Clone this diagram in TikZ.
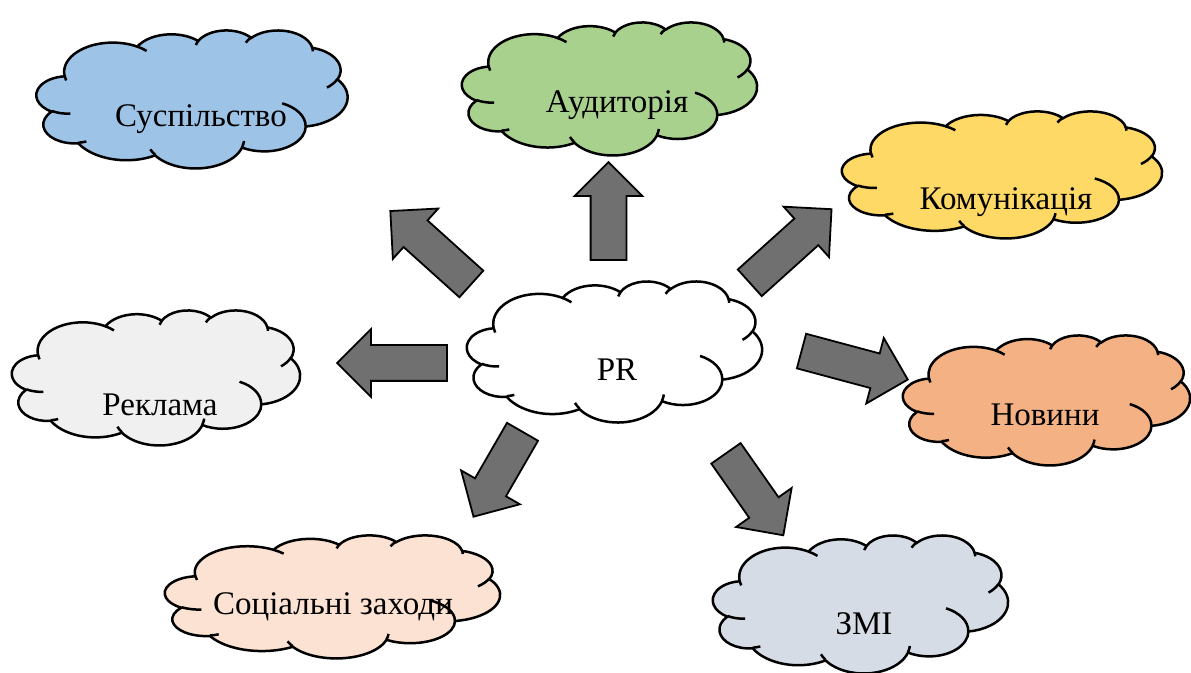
\documentclass[tikz,border=0pt]{standalone}
\usepackage{fontspec}
\setmainfont{Liberation Serif}
\usetikzlibrary{shapes.arrows}
\definecolor{cBlue}{RGB}{157,195,230}
\definecolor{cGreen}{RGB}{169,209,142}
\definecolor{cYellow}{RGB}{255,217,102}
\definecolor{cGray}{RGB}{240,240,240}
\definecolor{cOrange}{RGB}{244,177,131}
\definecolor{cPeach}{RGB}{251,226,210}
\definecolor{cSteel}{RGB}{214,220,229}
\definecolor{cArrow}{RGB}{112,112,112}
\tikzset{
  oarc/.style n args={4}{x radius=#1, y radius=#2,
    start angle={atan2(#1*sin(#3),#2*cos(#3))},
    delta angle={mod(atan2(#1*sin(#3+#4),#2*cos(#3+#4))-atan2(#1*sin(#3),#2*cos(#3))+720,360)}},
  officecloud/.pic={
    \path[pic actions, draw=black, line width=1.25pt, shift={(-216,-216)}] (39.00,143.70)
      arc[oarc={67.53}{91.90}{-190.487}{123.781}]
      arc[oarc={53.33}{72.67}{-144.102}{89.945}]
      arc[oarc={43.65}{59.45}{-145.808}{99.723}]
      arc[oarc={48.57}{65.95}{-130.986}{117.242}]
      arc[oarc={53.33}{72.73}{-78.709}{109.027}]
      arc[oarc={67.75}{92.20}{-46.267}{130.269}]
      arc[oarc={57.85}{78.67}{0.625}{114.033}]
      arc[oarc={67.52}{92.15}{22.452}{115.173}]
      arc[oarc={77.20}{105.43}{66.243}{75.711}]
      arc[oarc={43.60}{59.18}{-274.942}{146.736}]
      arc[oarc={43.45}{59.45}{-246.829}{152.519}] -- cycle;
    \draw[line width=1.25pt, shift={(-216,-216)}]
      (46.93,261.77) arc[oarc={43.45}{59.45}{86.742}{26.430}]
      (69.28,348.99) arc[oarc={43.60}{59.18}{73.610}{11.447}]
      (164.78,390.90) arc[oarc={67.52}{92.15}{137.624}{14.081}]
      (288.27,347.51) arc[oarc={67.52}{92.15}{6.453}{15.998}]
      (341.29,229.54) arc[oarc={57.85}{78.67}{-70.292}{70.917}]
      (417.98,153.54) arc[oarc={53.33}{72.73}{30.318}{27.752}]
      (383.24,54.26) arc[oarc={48.57}{65.95}{-13.744}{14.859}]
      (290.78,39.52) arc[oarc={48.57}{65.95}{-149.181}{18.195}]
      (221.41,47.20) arc[oarc={43.65}{59.45}{-163.494}{17.686}]
      (140.00,51.92) arc[oarc={67.53}{91.90}{-66.707}{12.319}]
      (41.27,157.89) arc[oarc={67.53}{91.90}{157.654}{11.858}];
  }
}
\begin{document}
\begin{tikzpicture}[x=0.5pt, y=-0.5pt,
    word/.style={font=\fontsize{16.5}{19}\selectfont, inner sep=0pt},
    blockarrow/.style={single arrow, draw=black, line width=0.9pt, fill=cArrow,
      inner xsep=0pt, inner ysep=8.5pt, minimum width=33pt,
      single arrow head extend=8pt, single arrow tip angle=90}]
    \useasboundingbox (0,0) rectangle (1191,673);
    \pic[fill=cBlue, xscale=0.7199, yscale=0.3194] (society) at (192,99) {officecloud};
    \pic[fill=cGreen, xscale=0.6829, yscale=0.3079] (audience) at (609.5,88.5) {officecloud};
    \pic[fill=cYellow, xscale=0.7407, yscale=0.2940] (comm) at (1002,174.5) {officecloud};
    \pic[fill=cGray, xscale=0.6667, yscale=0.3125] (ads) at (156,377.5) {officecloud};
    \pic[fill=white, xscale=0.6829, yscale=0.3264] (pr) at (614.5,351.5) {officecloud};
    \pic[fill=cOrange, xscale=0.6644, yscale=0.3009] (news) at (1046.5,400) {officecloud};
    \pic[fill=cPeach, xscale=0.7755, yscale=0.2847] (events) at (332.5,596.5) {officecloud};
    \pic[fill=cSteel, xscale=0.6829, yscale=0.3194] (media) at (860.5,604) {officecloud};
    \node[word] (societytext) at (201,119) {Суспільство};
    \node[word] (audiencetext) at (617,105) {Аудиторія};
    \node[word] (commtext) at (1006,202) {Комунікація};
    \node[word] (adstext) at (160,405) {Реклама};
    \node[word] (prtext) at (617,370) {PR};
    \node[word] (newstext) at (1045,415) {Новини};
    \node[word] (eventstext) at (333,607) {Соціальні заходи};
    \node[word] (mediatext) at (864,624) {ЗМІ};
    \node[blockarrow, rotate=138, minimum height=54.5pt] (toSociety) at (437.5,253.5) {};
    \node[blockarrow, rotate=90, minimum height=49pt] (toAudience) at (608.5,220) {};
    \node[blockarrow, rotate=42, minimum height=55pt] (toComm) at (784,252) {};
    \node[blockarrow, rotate=180, minimum height=55pt] (toAds) at (401,363) {};
    \node[blockarrow, rotate=-15, minimum height=55pt] (toNews) at (846,363) {};
    \node[blockarrow, rotate=240, minimum height=49pt] (toEvents) at (502.5,466.5) {};
    \node[blockarrow, rotate=-55, minimum height=50pt] (toMedia) at (749.5,487) {};
\end{tikzpicture}
\end{document}
